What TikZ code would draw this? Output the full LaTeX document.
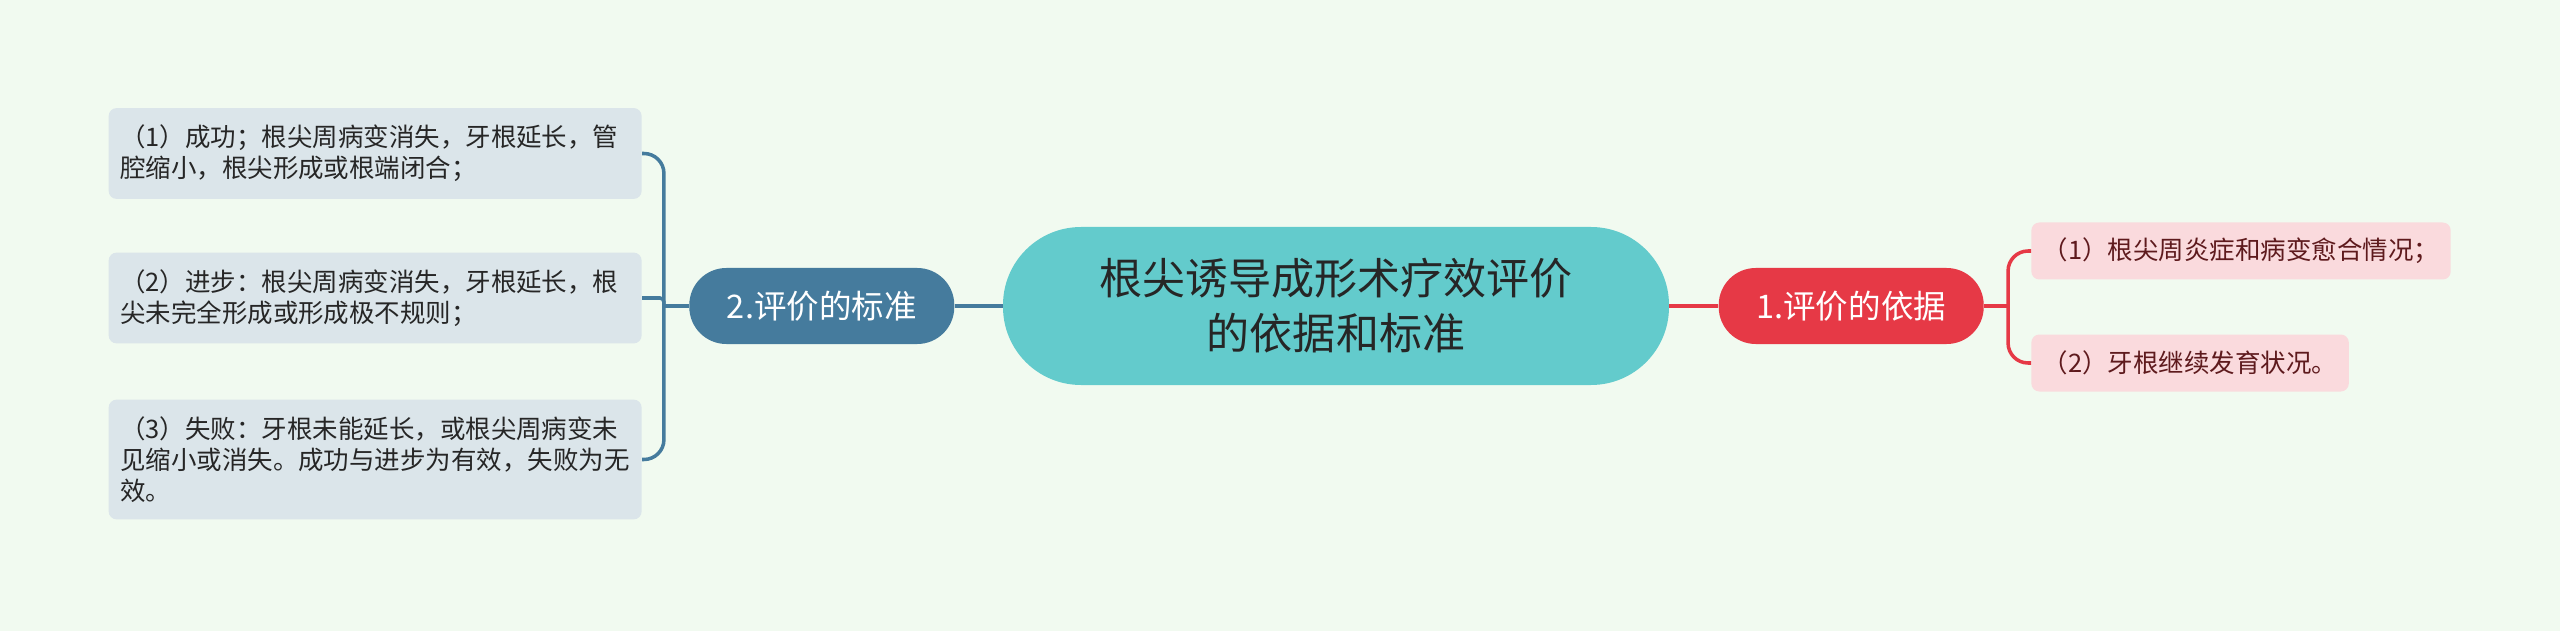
\documentclass[tikz,border=0pt]{standalone}
\usepackage{fontspec}
\setmainfont{Noto Sans CJK SC}
\usetikzlibrary{positioning}

\definecolor{bgcol}{HTML}{F1FAF0}
\definecolor{rootcol}{HTML}{63CBCC}
\definecolor{stdcol}{HTML}{457B9D}
\definecolor{basiscol}{HTML}{E63946}
\definecolor{leafblue}{HTML}{DBE5EA}
\definecolor{leafpink}{HTML}{FADADD}
\definecolor{pinktext}{HTML}{5E1A1D}

\tikzset{
  rootnode/.style={fill=rootcol, rounded corners=1.56cm, minimum width=13.32cm,
    minimum height=3.16cm, align=center, text=black!85,
    font=\fontsize{24.5}{31.3}\selectfont},
  branchnode/.style={rounded corners=0.74cm, minimum width=5.3cm,
    minimum height=1.52cm, text=white, font=\fontsize{18.5}{22}\selectfont},
  leftleaf/.style={fill=leafblue, rounded corners=0.16cm, text width=10.2cm,
    inner xsep=0.23cm, inner ysep=0.34cm, align=left, anchor=east, text=black!85,
    font=\fontsize{14.5}{17.6}\selectfont},
  rightleaf/.style={fill=leafpink, rounded corners=0.16cm, minimum height=1.14cm,
    inner xsep=0.23cm, anchor=west, text=pinktext,
    font=\fontsize{14.5}{17.6}\selectfont},
  link/.style={line width=2pt}
}

\begin{document}
\begin{tikzpicture}
  \fill[bgcol] (0,0) rectangle (51.2,-12.62);
  \useasboundingbox (0,0) rectangle (51.2,-12.62);

  \node[rootnode]                 (root)  at (26.72,-6.12) {根尖诱导成形术疗效评价\\的依据和标准};
  \node[branchnode, fill=stdcol]  (std)   [left=0.96cm of root]  {2.评价的标准};
  \node[branchnode, fill=basiscol] (basis) [right=0.98cm of root] {1.评价的依据};

  % left leaves
  \node[leftleaf] (succ) at (12.84,-3.07) {（1）成功；根尖周病变消失，牙根延长，管\\腔缩小，根尖形成或根端闭合；};
  \node[leftleaf] (prog) at (12.84,-5.96) {（2）进步：根尖周病变消失，牙根延长，根\\尖未完全形成或形成极不规则；};
  \node[leftleaf] (fail) at (12.84,-9.19) {（3）失败：牙根未能延长，或根尖周病变未\\见缩小或消失。成功与进步为有效，失败为无\\效。};

  % right leaves
  \node[rightleaf] (heal) at (40.62,-5.02) {（1）根尖周炎症和病变愈合情况；};
  \node[rightleaf] (grow) at (40.62,-7.26) {（2）牙根继续发育状况。};

  \coordinate (lfork) at ([xshift=-0.5cm]std.west);
  \coordinate (rfork) at ([xshift=0.48cm]basis.east);

  \draw[link, stdcol] (root) -- (std);
  \draw[link, stdcol] (std.west) -- (lfork);
  \draw[link, stdcol, rounded corners=0.4cm] (lfork) |- (succ.east);
  \draw[link, stdcol, rounded corners=0.08cm] (lfork) |- (prog.east);
  \draw[link, stdcol, rounded corners=0.4cm] (lfork) |- (fail.east);

  \draw[link, basiscol] (root) -- (basis);
  \draw[link, basiscol] (basis.east) -- (rfork);
  \draw[link, basiscol, rounded corners=0.4cm] (rfork) |- (heal.west);
  \draw[link, basiscol, rounded corners=0.4cm] (rfork) |- (grow.west);
\end{tikzpicture}
\end{document}
